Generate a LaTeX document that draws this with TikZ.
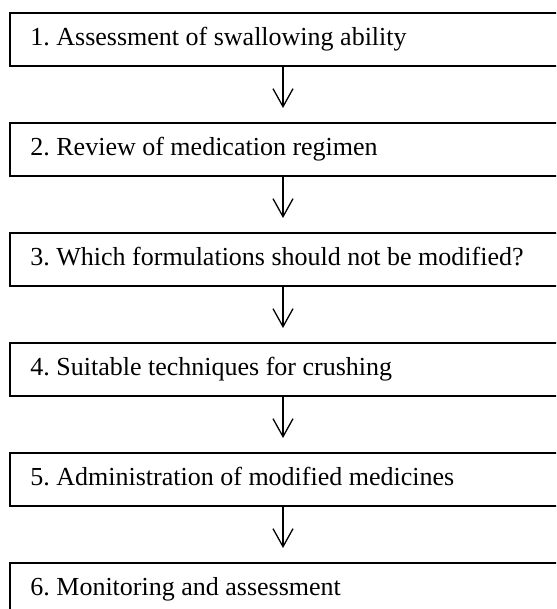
\documentclass[tikz,border=0pt]{standalone}
\usepackage{fontspec}
\setmainfont{Liberation Serif}
\usetikzlibrary{arrows.meta}
\begin{document}
\frenchspacing
\begin{tikzpicture}[x=1pt,y=-1pt,
  stepbox/.style={draw, line width=1.8pt, anchor=north west, minimum width=560pt,
    minimum height=53pt, text width=519pt, align=flush left, inner xsep=20pt, inner ysep=0pt,
    text height=17pt, text depth=4pt, font=\fontsize{26}{30}\selectfont},
  arr/.style={line width=1.3pt, -{Straight Barb[length=18pt,width=20pt,line width=1.3pt]}, shorten >=14pt}]
\clip (0,0) rectangle (556,609);
\useasboundingbox (0,0) rectangle (556,609);
\node[stepbox] (b1) at (9,12) {1. Assessment of swallowing ability};
\node[stepbox] (b2) at (9,122) {2. Review of medication regimen};
\node[stepbox] (b3) at (9,232) {3. Which formulations should not be modified?};
\node[stepbox] (b4) at (9,342) {4. Suitable techniques for crushing};
\node[stepbox] (b5) at (9,452) {5. Administration of modified medicines};
\node[stepbox] (b6) at (9,562) {6. Monitoring and assessment};
\coordinate (ax) at (283,0);
\draw[arr] (b1.south -| ax) -- (b2.north -| ax);
\draw[arr] (b2.south -| ax) -- (b3.north -| ax);
\draw[arr] (b3.south -| ax) -- (b4.north -| ax);
\draw[arr] (b4.south -| ax) -- (b5.north -| ax);
\draw[arr] (b5.south -| ax) -- (b6.north -| ax);
\end{tikzpicture}
\end{document}
